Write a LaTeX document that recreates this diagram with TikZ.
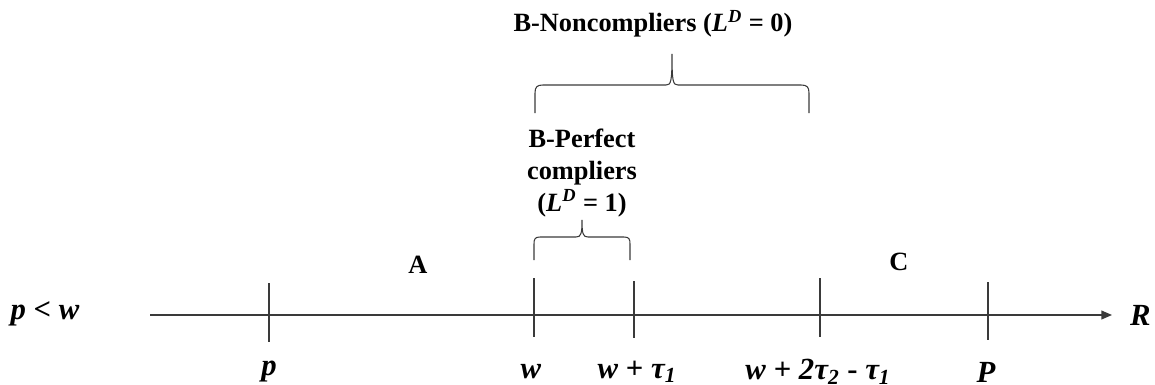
\documentclass[tikz,border=0pt]{standalone}
\usepackage{fontspec}
\setmainfont{Liberation Serif}
\usepackage{tikz}
\usetikzlibrary{arrows.meta, positioning}
\definecolor{Ink}{HTML}{3A3A3A}
\newcommand{\bi}[1]{\textbf{\textit{#1}}}

\begin{document}
\begin{tikzpicture}[
  x=0.02cm, y=-0.02cm,
  font=\fontsize{15}{18}\selectfont\bfseries,
  axis/.style={draw=Ink, line width=0.7pt, -{Triangle[length=6pt, width=5pt]}},
  tick/.style={draw=Ink, line width=0.6pt},
  brace/.style={draw=Ink, line width=0.6pt},
  lbl/.style={inner sep=1pt, align=center},
  mlbl/.style={lbl, font=\fontsize{17.5}{20}\selectfont\bfseries}
]
\useasboundingbox (0,0) rectangle (1155,385);

% axis
\coordinate (start) at (150,315);
\coordinate (end) at (1112,315);
\draw[axis] (start) -- (end);
\node[mlbl, anchor=west] (R) at (1128,315) {\bi{R}};
\node[mlbl] (cond) at (45,314) {\bi{p} \textless{} \bi{w}};

% ticks
\draw[tick] (269,283) -- (269,342);
\draw[tick] (534,278) -- (534,337);
\draw[tick] (634,281) -- (634,338);
\draw[tick] (820,278) -- (820,337);
\draw[tick] (988,282) -- (988,340);

% labels below
\node[mlbl] (lp) at (269,372) {\bi{p}};
\node[mlbl] (lw) at (531,372) {\bi{w}};
\node[mlbl] (lwt) at (637,372) {\bi{w} + \bi{τ\textsubscript{1}}};
\node[mlbl] (lwtt) at (818,372) {\bi{w} + \bi{2τ\textsubscript{2}} - \bi{τ\textsubscript{1}}};
\node[mlbl] (lP) at (986,372) {\bi{P}};

% regions
\node[lbl] (A) at (418,265) {A};
\node[lbl] (C) at (899,262) {C};

% small brace
\draw[brace] (534,260) -- (534,244) .. controls (534,239) and (535,237) .. (540,237)
  -- (576,237) .. controls (581,237) and (582,234) .. (582,220)
  .. controls (582,234) and (583,237) .. (588,237)
  -- (624,237) .. controls (629,237) and (630,239) .. (630,244) -- (630,260);
\node[lbl] (perfect) at (582,173) {B-Perfect\\compliers\\(\bi{L}\textsuperscript{\bi{D}} = 1)};

% big brace
\draw[brace] (535,113) -- (535,93) .. controls (535,87) and (537,85) .. (543,85)
  -- (666,85) .. controls (671,85) and (672,82) .. (672,54)
  .. controls (672,82) and (673,85) .. (678,85)
  -- (801,85) .. controls (807,85) and (809,87) .. (809,93) -- (809,113);
\node[lbl] (noncomp) at (653,24) {B-Noncompliers (\bi{L}\textsuperscript{\bi{D}} = 0)};
\end{tikzpicture}
\end{document}
